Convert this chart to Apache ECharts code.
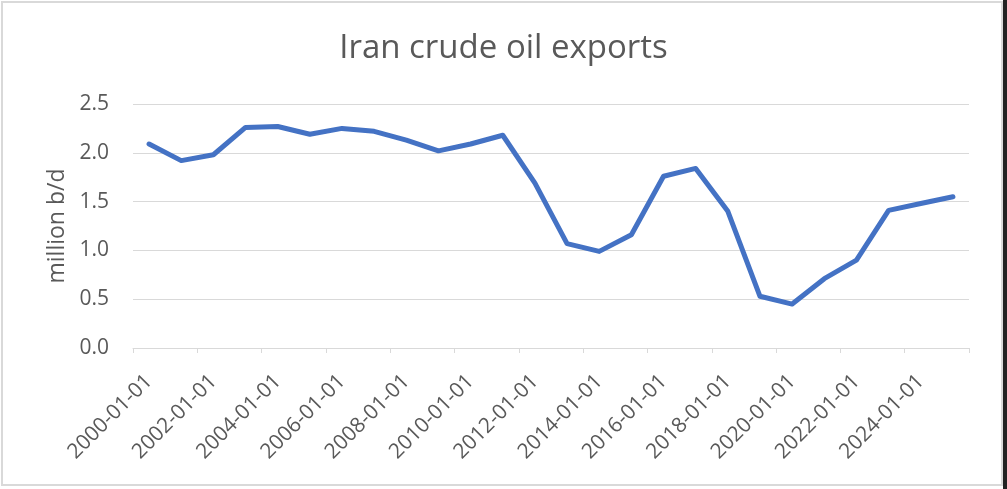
<!DOCTYPE html>
<html>
<head>
<meta charset="utf-8">
<script src="https://cdn.jsdelivr.net/npm/echarts@6/dist/echarts.min.js"></script>
<style>
html,body{margin:0;padding:0;background:#fff;}
#c{width:1007px;height:489px;}
</style>
</head>
<body>
<div id="c"></div>
<script>
const categories = ['2000-01-01','2001-01-01','2002-01-01','2003-01-01','2004-01-01','2005-01-01','2006-01-01','2007-01-01','2008-01-01','2009-01-01','2010-01-01','2011-01-01','2012-01-01','2013-01-01','2014-01-01','2015-01-01','2016-01-01','2017-01-01','2018-01-01','2019-01-01','2020-01-01','2021-01-01','2022-01-01','2023-01-01','2024-01-01','2025-01-01'];
const exportsMbd = [2.09,1.92,1.98,2.26,2.27,2.19,2.25,2.22,2.13,2.02,2.09,2.18,1.69,1.07,0.99,1.16,1.76,1.84,1.40,0.53,0.45,0.71,0.90,1.41,1.48,1.55];
const titleText = 'Iran crude oil exports';
const yName = 'million b/d';

const chart = echarts.init(document.getElementById('c'), null, {renderer:'canvas'});
const font = '"Open Sans", sans-serif';
chart.setOption({
  animation:false,
  backgroundColor:'#fff',
  title:{text:titleText,left:'center',top:27,textStyle:{fontFamily:font,fontSize:33,fontWeight:'normal',color:'#595959'}},
  grid:{left:133,right:38,top:104,bottom:141,containLabel:false},
  xAxis:{
    type:'category',data:categories,boundaryGap:true,
    axisLine:{lineStyle:{color:'#d9d9d9',width:1}},
    axisTick:{show:true,interval:1,length:5,lineStyle:{color:'#d9d9d9'}},
    axisLabel:{interval:1,rotate:45,fontFamily:font,fontSize:21,color:'#595959',margin:30}
  },
  yAxis:{
    type:'value',min:0,max:2.5,interval:0.5,
    name:yName,nameLocation:'middle',nameGap:64,nameRotate:90,
    nameTextStyle:{fontFamily:font,fontSize:23,color:'#595959'},
    axisLine:{show:false},axisTick:{show:false},
    splitLine:{lineStyle:{color:'#d9d9d9',width:1}},
    axisLabel:{fontFamily:font,fontSize:21,color:'#595959',margin:24,formatter:v=>v.toFixed(1)}
  },
  series:[{type:'line',data:exportsMbd,symbol:'none',lineStyle:{color:'#4472C4',width:5,join:'round',cap:'round'}}],
  graphic:[
    {type:'rect',shape:{x:2,y:2,width:1000,height:483},style:{fill:'none',stroke:'#d9d9d9',lineWidth:2},silent:true},
    {type:'rect',shape:{x:1003,y:0,width:4,height:489},style:{fill:'#222'},silent:true}
  ]
});
</script>
</body>
</html>
